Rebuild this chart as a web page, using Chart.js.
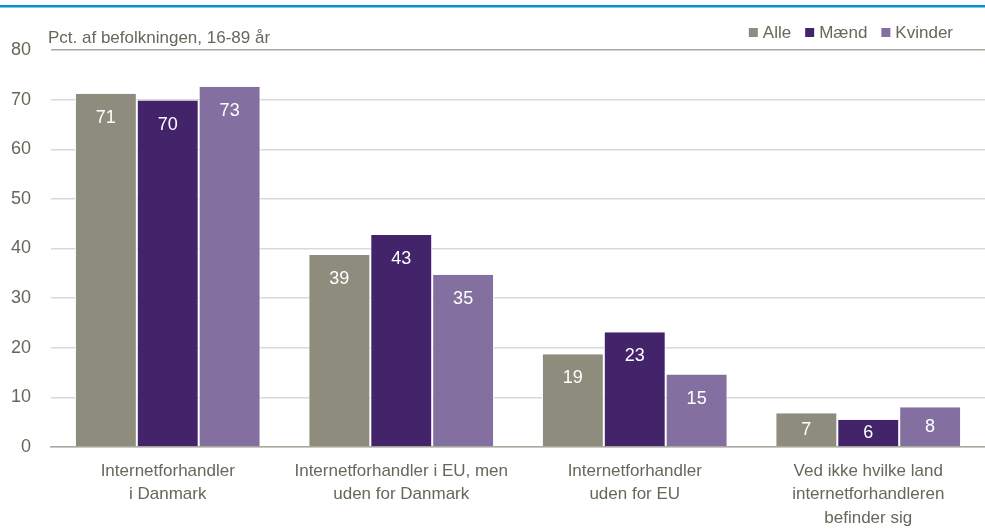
<!DOCTYPE html>
<html>
<head>
<meta charset="utf-8">
<script src="https://cdn.jsdelivr.net/npm/chart.js@4.4.1/dist/chart.umd.min.js"></script>
<style>
  html, body { margin: 0; padding: 0; background: #fff; }
  #wrap { width: 985px; height: 530px; position: relative; }
</style>
</head>
<body>
<div id="wrap"><canvas id="chart"></canvas></div>
<script>
// Data
const categories = [
    ['Internetforhandler', 'i Danmark'],
    ['Internetforhandler i EU, men', 'uden for Danmark'],
    ['Internetforhandler', 'uden for EU'],
    ['Ved ikke hvilke land', 'internetforhandleren', 'befinder sig']
];
const seriesNames = ['Alle', 'Mænd', 'Kvinder'];
const alle = [71.2, 38.7, 18.7, 6.8];
const maend = [69.8, 42.7, 23.1, 5.5];
const kvinder = [72.6, 34.7, 14.6, 8.0];
const yTicks = [0, 10, 20, 30, 40, 50, 60, 70, 80];
const yTitle = 'Pct. af befolkningen, 16-89 år';

const colors = ['#8d8c7d', '#43246a', '#8470a0'];
const textColor = '#67675a';
const FONT = "'Liberation Sans Narrow', 'Arial Narrow', 'Liberation Sans', Arial, sans-serif";

// header: blue rule, axis title and legend
const headerPlugin = {
    id: 'header',
    afterDraw: (chart) => {
        const ctx = chart.ctx;
        ctx.save();
        ctx.fillStyle = '#0092d2';
        ctx.fillRect(0, 5, chart.width, 2.5);

        ctx.font = '17px ' + FONT;
        ctx.fillStyle = textColor;
        ctx.textBaseline = 'middle';
        ctx.textAlign = 'left';
        ctx.fillText(yTitle, 48, 38);

        // legend, right aligned
        let x = 953;
        for (let i = chart.data.datasets.length - 1; i >= 0; i--) {
            const ds = chart.data.datasets[i];
            const w = ctx.measureText(ds.label).width;
            x -= w;
            ctx.fillStyle = textColor;
            ctx.fillText(ds.label, x, 33);
            x -= 14;
            ctx.fillStyle = ds.backgroundColor;
            ctx.fillRect(x, 28, 9, 9);
            x -= 14;
        }
        ctx.restore();
    }
};

// white value labels inside bar tops (centred when the bar is short)
const valueLabels = {
    id: 'valueLabels',
    afterDatasetsDraw: (chart) => {
        const ctx = chart.ctx;
        ctx.save();
        ctx.font = '18px ' + FONT;
        ctx.fillStyle = '#ffffff';
        ctx.textAlign = 'center';
        ctx.textBaseline = 'middle';
        chart.data.datasets.forEach((ds, di) => {
            chart.getDatasetMeta(di).data.forEach((bar, i) => {
                const y = Math.min(bar.y + 24, (bar.y + bar.base) / 2);
                ctx.fillText(String(Math.round(ds.data[i])), bar.x, y);
            });
        });
        ctx.restore();
    }
};

const ctx = document.getElementById('chart').getContext('2d');
new Chart(ctx, {
    type: 'bar',
    data: {
        labels: categories,
        datasets: [
            { label: seriesNames[0], data: alle, backgroundColor: colors[0] },
            { label: seriesNames[1], data: maend, backgroundColor: colors[1] },
            { label: seriesNames[2], data: kvinder, backgroundColor: colors[2] }
        ].map(d => Object.assign(d, {
            borderColor: '#ffffff',
            borderWidth: { left: 1, right: 1, top: 0, bottom: 0 },
            borderSkipped: false,
            barPercentage: 1,
            categoryPercentage: 0.795
        }))
    },
    options: {
        responsive: true,
        maintainAspectRatio: false,
        animation: false,
        layout: { padding: { top: 50, right: 0, bottom: 0, left: 0 } },
        plugins: {
            legend: { display: false },
            tooltip: { enabled: false }
        },
        scales: {
            x: {
                grid: { display: false, drawTicks: false },
                border: { display: true, color: '#a9a99d', width: 1.5 },
                ticks: {
                    color: textColor,
                    font: { family: FONT, size: 17, lineHeight: 1.4 },
                    padding: 12,
                    maxRotation: 0,
                    autoSkip: false
                },
                afterFit: (scale) => { scale.height = 83; }
            },
            y: {
                min: 0,
                max: 80,
                afterBuildTicks: (scale) => {
                    scale.ticks = yTicks.map(v => ({ value: v }));
                },
                grid: {
                    drawTicks: false,
                    color: (c) => (c.tick && c.tick.value === 80) ? '#a9a99d' : '#d9d9d9',
                    lineWidth: 1.5
                },
                border: { display: false },
                ticks: {
                    color: textColor,
                    font: { family: FONT, size: 18 },
                    padding: 20
                },
                afterFit: (scale) => { scale.width = 51; }
            }
        }
    },
    plugins: [headerPlugin, valueLabels]
});
</script>
</body>
</html>
